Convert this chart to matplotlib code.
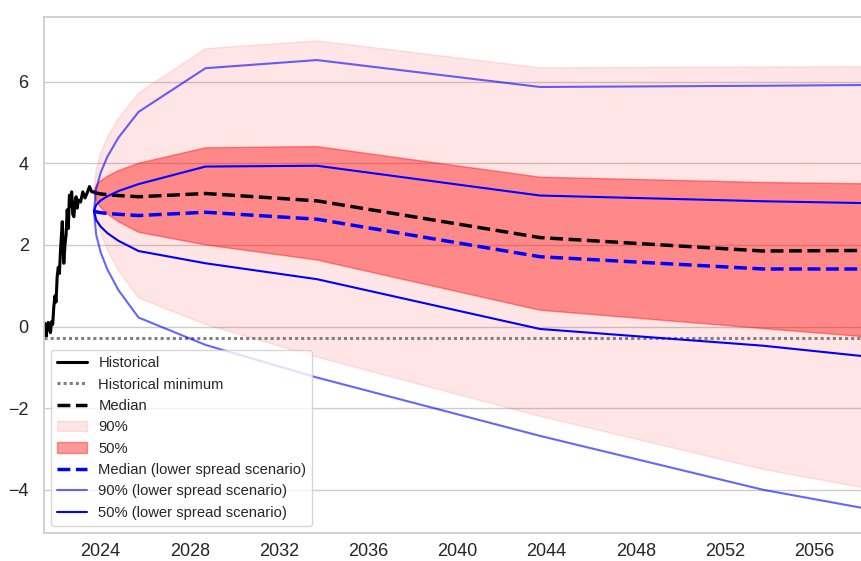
import matplotlib
matplotlib.use("Agg")
import matplotlib.pyplot as plt
import seaborn as sns

sns.set_theme(style="whitegrid", context="notebook")
plt.rcParams['font.family'] = ['Liberation Sans', 'DejaVu Sans']

# historical series
hist_years = [2021.46, 2021.50, 2021.55, 2021.60, 2021.65, 2021.70, 2021.75, 2021.80,
              2021.85, 2021.90, 2021.95, 2022.00, 2022.05, 2022.10, 2022.15, 2022.20,
              2022.25, 2022.28, 2022.32, 2022.35, 2022.40, 2022.45, 2022.50, 2022.55,
              2022.60, 2022.65, 2022.70, 2022.75, 2022.80, 2022.85, 2022.90, 2022.95,
              2023.00, 2023.10, 2023.20, 2023.30, 2023.40, 2023.50, 2023.60, 2023.70]
hist_vals = [0.00, 0.08, -0.25, -0.05, 0.10, -0.05, -0.15, 0.12,
             0.05, 0.49, 0.75, 0.60, 1.22, 1.45, 1.30, 1.87,
             2.30, 2.57, 1.90, 1.55, 2.00, 2.25, 2.86, 2.40,
             3.22, 2.94, 3.30, 2.75, 2.69, 3.05, 3.18, 2.90,
             3.10, 3.05, 3.30, 3.15, 3.28, 3.43, 3.30, 3.30]
hist_min = -0.27

# forecast
fc_years = [2023.7, 2023.8, 2024.0, 2024.3, 2024.8, 2025.7, 2028.7, 2033.7, 2043.7, 2053.7, 2063.7]
p90_hi = [3.3, 3.84, 4.24, 4.63, 5.10, 5.72, 6.81, 7.00, 6.34, 6.36, 6.38]
p50_hi = [3.3, 3.46, 3.57, 3.68, 3.82, 4.00, 4.38, 4.41, 3.66, 3.53, 3.46]
median = [3.3, 3.27, 3.25, 3.23, 3.21, 3.18, 3.26, 3.08, 2.18, 1.85, 1.88]
p50_lo = [3.3, 3.08, 2.92, 2.76, 2.57, 2.31, 2.00, 1.63, 0.40, -0.05, -0.49]
p90_lo = [3.3, 2.72, 2.29, 1.88, 1.37, 0.70, 0.05, -0.75, -2.20, -3.50, -4.50]

# lower spread scenario
lo_p90_hi = [2.83, 3.37, 3.77, 4.16, 4.63, 5.26, 6.33, 6.53, 5.87, 5.90, 5.94]
lo_p50_hi = [2.83, 2.98, 3.09, 3.19, 3.32, 3.49, 3.92, 3.94, 3.21, 3.07, 2.97]
lo_median = [2.83, 2.81, 2.79, 2.77, 2.75, 2.72, 2.80, 2.63, 1.71, 1.41, 1.41]
lo_p50_lo = [2.83, 2.61, 2.45, 2.29, 2.10, 1.85, 1.55, 1.16, -0.06, -0.47, -1.04]
lo_p90_lo = [2.83, 2.25, 1.82, 1.40, 0.89, 0.22, -0.45, -1.25, -2.68, -4.00, -5.00]

x_ticks = [2024, 2028, 2032, 2036, 2040, 2044, 2048, 2052, 2056]
y_ticks = [-4, -2, 0, 2, 4, 6]

fig = plt.figure(figsize=(8.61, 5.61), dpi=100)
ax = fig.add_axes([44/861, 28/561, 826/861, 516/561])

ax.plot(hist_years, hist_vals, color='black', lw=2.2, label='Historical')
ax.axhline(hist_min, color='gray', lw=2.2, ls=(0, (1, 1)), label='Historical minimum')
ax.plot(fc_years, median, color='black', lw=2.5, ls='--', label='Median')
ax.fill_between(fc_years, p90_lo, p90_hi, color='red', alpha=0.1, label='90%')
ax.fill_between(fc_years, p50_lo, p50_hi, color='red', alpha=0.4, label='50%')
ax.plot(fc_years, lo_median, color='blue', lw=2.5, ls='--', label='Median (lower spread scenario)')
ax.plot(fc_years, lo_p90_hi, color='blue', alpha=0.6, lw=1.5, label='90% (lower spread scenario)')
ax.plot(fc_years, lo_p90_lo, color='blue', alpha=0.6, lw=1.5)
ax.plot(fc_years, lo_p50_hi, color='blue', lw=1.5, label='50% (lower spread scenario)')
ax.plot(fc_years, lo_p50_lo, color='blue', lw=1.5)

ax.set_xlim(2021.46, 2058.5)
ax.set_ylim(-5.06, 7.585)
ax.set_xticks(x_ticks)
ax.set_yticks(y_ticks)
ax.grid(axis='x', visible=False)
ax.tick_params(axis='both', labelsize=13)
ax.tick_params(axis='x', pad=1.5)
ax.tick_params(axis='y', pad=5)
ax.legend(loc='lower left', fontsize=10.6)

fig.savefig('out.png', dpi=100)
